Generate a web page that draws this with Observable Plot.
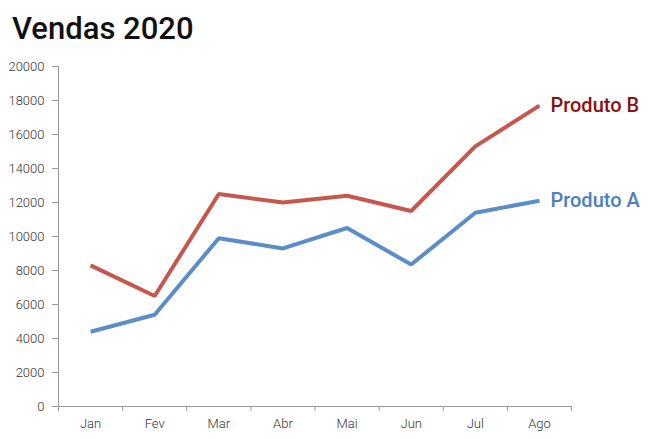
<!DOCTYPE html>
<html><head><meta charset="utf-8">
<script src="https://cdn.jsdelivr.net/npm/d3@7"></script>
<script src="https://cdn.jsdelivr.net/npm/@observablehq/plot@0.6"></script>
<style>
body{margin:0;background:#fff;font-family:Roboto,sans-serif;}
#title{height:56px;box-sizing:border-box;padding:11px 0 0 12px;font-size:31px;font-weight:500;color:#111;line-height:36px;}
</style></head>
<body>
<div id="title">Vendas 2020</div>
<div id="chart"></div>
<script>
const months = ["Jan","Fev","Mar","Abr","Mai","Jun","Jul","Ago"];
const produtoA = [4400,5400,9900,9300,10500,8350,11400,12100];
const produtoB = [8300,6500,12500,12000,12400,11500,15300,17700];
const series = [
  {name:"Produto B", values: produtoB, color:"#c5574f", label:"#8b1010"},
  {name:"Produto A", values: produtoA, color:"#5b8ec6", label:"#4a80c0"}
];
const yTicks = d3.range(0, 20001, 2000);

const data = series.flatMap(s => s.values.map((v,i) => ({x:i+0.5, y:v, name:s.name, color:s.color})));
const last = series.map(s => ({x: months.length-0.5, y: s.values[s.values.length-1], name:s.name, label:s.label}));

const chart = Plot.plot({
  width:650, height:383,
  marginTop:10, marginBottom:33, marginLeft:58, marginRight:79,
  style:{fontFamily:"Roboto, sans-serif", fontSize:"13px", fontWeight:300, color:"#333"},
  x:{domain:[0, months.length]},
  y:{domain:[0,20000]},
  marks:[
    Plot.axisY({ticks:yTicks, tickSize:6, tickPadding:8, tickFormat:d=>String(d), stroke:"#999", fill:"#333", label:null}),
    Plot.ruleX([0],{stroke:"#999"}),
    Plot.ruleY([0],{stroke:"#999"}),
    Plot.axisX({ticks:d3.range(0, months.length+1), tickSize:5, tickFormat:()=>"", stroke:"#999", label:null}),
    Plot.axisX({ticks:d3.range(0, months.length).map(i=>i+0.5), tickSize:0, tickPadding:12, tickFormat:d=>months[Math.floor(d)], fill:"#333", label:null}),
    Plot.line(data,{x:"x", y:"y", z:"name", stroke:"color", strokeWidth:4, strokeLinejoin:"miter", strokeLinecap:"butt"}),
    Plot.text(last,{x:"x", y:"y", text:"name", fill:"label", dx:11, textAnchor:"start", fontSize:20, fontWeight:500})
  ]
});
document.getElementById("chart").append(chart);
</script>
</body></html>
